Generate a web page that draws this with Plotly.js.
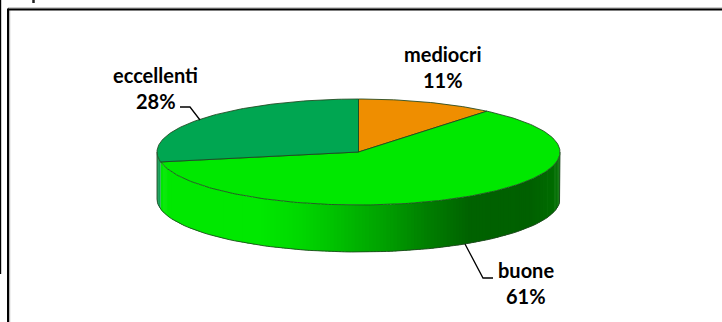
<!DOCTYPE html>
<html>
<head>
<meta charset="utf-8">
<script src="https://cdn.plot.ly/plotly-3.0.1.min.js"></script>
<style>html,body{margin:0;padding:0;background:#fff}#chart{width:722px;height:322px}</style>
</head>
<body>
<div id="chart"></div>
<script>
// Share of ratings, clockwise from twelve o'clock
const categories = ['mediocri', 'buone', 'eccellenti'];
const shares = [11, 61, 28];
const topColors = ['#EF8E00', '#00E800', '#00A651'];
const wallColors = ['#B86C00', '#00E800', '#0A9A50'];

// Tilted disc geometry, in axis units (the axes run one unit per pixel)
const disc = {cx: 358.5, cy: 152, rx: 201.5, ry: 53, depth: 47};

// Light falling on the rim of the large slice, by horizontal position
const rimShade = [
  [150, [0, 232, 0]], [260, [0, 232, 0]], [300, [0, 216, 0]], [345, [0, 186, 0]],
  [385, [0, 160, 0]], [425, [0, 128, 0]], [470, [0, 98, 0]], [530, [0, 96, 0]], [562, [0, 112, 0]]
];

// Label placement per category: name line, share line, optional leader
const labelX = [443, 526, 155.5];
const nameY = [53.5, 269.5, 74.5];
const shareY = [79.5, 295.5, 100.5];
const leaderX = [null, [465, 483, 493], [180, 190, 200]];
const leaderY = [null, [244, 278, 278], [107, 107, 120]];

const rad = d => d * Math.PI / 180;
const ex = a => disc.cx + disc.rx * Math.sin(rad(a));
const ey = (a, drop) => disc.cy - disc.ry * Math.cos(rad(a)) + (drop || 0);

function shadeAt(x) {
  for (let i = 1; i < rimShade.length; i++) {
    if (x <= rimShade[i][0]) {
      const [x0, c0] = rimShade[i - 1], [x1, c1] = rimShade[i];
      const t = (x - x0) / (x1 - x0);
      return 'rgb(' + c0.map((v, k) => Math.round(v + (c1[k] - v) * t)).join(',') + ')';
    }
  }
  return 'rgb(' + rimShade[rimShade.length - 1][1].join(',') + ')';
}

// Slice boundaries in degrees
const total = shares.reduce((a, b) => a + b, 0);
const edges = [0];
shares.forEach(v => edges.push(edges[edges.length - 1] + v / total * 360));

const traces = [];
const edgeColor = 'rgba(30,70,30,0.85)';
const base = {type: 'scatter', hoverinfo: 'skip', showlegend: false};

// Rim: the front half of the disc, built from thin overlapping strips
const stepDeg = 1;
shares.forEach((v, i) => {
  const from = Math.max(edges[i], 90), to = Math.min(edges[i + 1], 270);
  for (let a = from; a < to; a += stepDeg) {
    const b = Math.min(a + stepDeg, to);
    const end = Math.min(b + 0.6, to);
    const mid = (a + b) / 2;
    const color = i === 1 ? shadeAt(ex(mid)) : wallColors[i];
    traces.push({...base, mode: 'none', fill: 'toself', fillcolor: color,
      x: [ex(a), ex(end), ex(end), ex(a), ex(a)],
      y: [ey(a), ey(end), ey(end, disc.depth), ey(a, disc.depth), ey(a)]});
  }
});

// Outline of the rim: left side, then round the bottom to the right side
const rimAngles = [];
for (let a = 90; a <= 270; a += 2) rimAngles.push(a);
traces.push({...base, mode: 'lines', line: {color: edgeColor, width: 1},
  x: [ex(90)].concat(rimAngles.map(a => ex(a)), [ex(270)]),
  y: [ey(90)].concat(rimAngles.map(a => ey(a, disc.depth)), [ey(270)])});

// Top face of every slice
shares.forEach((v, i) => {
  const xs = [disc.cx], ys = [disc.cy];
  for (let a = edges[i]; a < edges[i + 1]; a += 1) { xs.push(ex(a)); ys.push(ey(a)); }
  xs.push(ex(edges[i + 1]), disc.cx);
  ys.push(ey(edges[i + 1]), disc.cy);
  traces.push({...base, mode: 'lines', fill: 'toself', fillcolor: topColors[i],
    line: {color: edgeColor, width: 1}, x: xs, y: ys});
});

// Leader lines from labels to slices
leaderX.forEach((lx, i) => {
  if (lx) traces.push({...base, mode: 'lines', line: {color: '#000', width: 1.3}, x: lx, y: leaderY[i]});
});

// Two text lines per category
const labelFont = {family: 'Lato, "Open Sans", sans-serif', size: 20, color: '#000', weight: 700};
const annotations = [];
categories.forEach((name, i) => {
  [[name, nameY[i]], [shares[i] + '%', shareY[i]]].forEach(([text, y]) => {
    annotations.push({xref: 'x', yref: 'y', x: labelX[i], y, text: '<b>' + text + '</b>', showarrow: false,
      xanchor: 'center', yanchor: 'middle', font: labelFont});
  });
});

// Page frame
const frameLine = (x0, y0, x1, y1, color, width) => ({type: 'line', xref: 'x', yref: 'y',
  x0, y0, x1, y1, line: {color, width}, layer: 'below'});
const shapes = [
  frameLine(8, 8, 722, 8, '#9a9a9a', 1),
  frameLine(9.7, 9, 9.7, 322, '#a8a8a8', 1),
  frameLine(8, 9.5, 722, 9.5, '#000', 2),
  frameLine(8, 8.5, 8, 322, '#000', 2),
  frameLine(0.5, 0, 0.5, 274, '#000', 1.4),
  frameLine(33.5, 0, 33.5, 3, '#222', 2.5)
];

Plotly.newPlot('chart', traces, {
  width: 722, height: 322,
  margin: {l: 0, r: 0, t: 0, b: 0},
  paper_bgcolor: '#fff', plot_bgcolor: '#fff',
  xaxis: {range: [0, 722], visible: false, fixedrange: true},
  yaxis: {range: [322, 0], visible: false, fixedrange: true},
  showlegend: false, annotations, shapes
}, {displayModeBar: false, staticPlot: true});
</script>
</body>
</html>
